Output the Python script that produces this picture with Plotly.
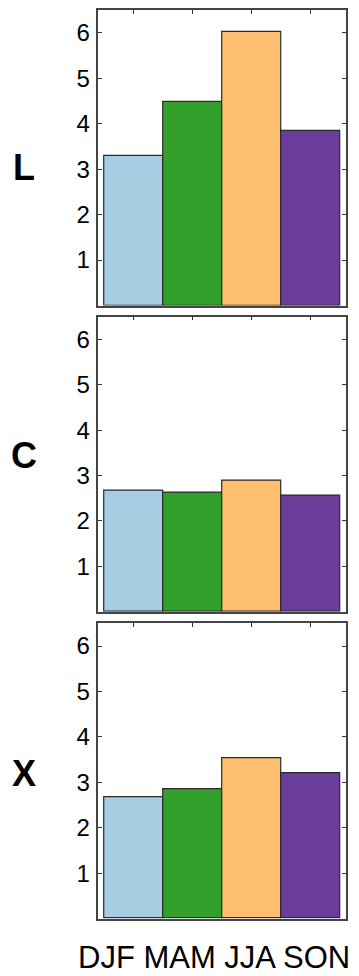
import plotly.graph_objects as go

seasons = ["DJF", "MAM", "JJA", "SON"]
panel_labels = ["L", "C", "X"]
values_L = [3.28, 4.47, 6.02, 3.83]
values_C = [2.66, 2.63, 2.88, 2.55]
values_X = [2.67, 2.85, 3.53, 3.20]
bar_colors = ["#a6cee3", "#33a02c", "#fdbf6f", "#6a3d9a"]
y_ticks = [1, 2, 3, 4, 5, 6]

W, H = 359, 976
panels = [values_L, values_C, values_X]
# pixel boxes (top, bottom)
boxes = [(10, 305.5), (316.7, 611.7), (623.3, 918.7)]
x_left, x_right = 98.3, 345.7
label_y = [168, 456, 773]

fig = go.Figure()
font_fam = "Liberation Sans, Arial, sans-serif"
for i, vals in enumerate(panels):
    n = i + 1
    xa = "x" if n == 1 else f"x{n}"
    ya = "y" if n == 1 else f"y{n}"
    fig.add_trace(go.Bar(
        x=seasons, y=vals, xaxis=xa, yaxis=ya,
        marker=dict(color=bar_colors, line=dict(color="#2b2b2b", width=1.2)),
        showlegend=False, hoverinfo="skip",
    ))
    top, bot = boxes[i]
    xkey = "xaxis" if n == 1 else f"xaxis{n}"
    ykey = "yaxis" if n == 1 else f"yaxis{n}"
    fig.update_layout(**{
        xkey: dict(
            domain=[x_left / W, x_right / W], anchor=ya,
            type="category", categoryorder="array", categoryarray=seasons,
            range=[-0.6, 3.6], side="top",
            showticklabels=False, ticks="inside", ticklen=4, tickwidth=1.2,
            tickcolor="#333", showline=True, linecolor="#444", linewidth=1.5,
            mirror=True, showgrid=False, zeroline=False, fixedrange=True,
        ),
        ykey: dict(
            domain=[1 - bot / H, 1 - top / H], anchor=xa,
            range=[0, 6.5], tickvals=y_ticks, ticktext=[str(t) for t in y_ticks],
            ticks="inside", ticklen=4, tickwidth=1.2, tickcolor="#333",
            showline=True, linecolor="#444", linewidth=1.5, mirror="ticks",
            showgrid=False, zeroline=False,
            tickfont=dict(family=font_fam, size=24, color="black"),
            ticklabelstandoff=2, fixedrange=True,
        ),
    })
    fig.add_annotation(
        x=23.5 / W, y=1 - label_y[i] / H, xref="paper", yref="paper",
        text=f"<b>{panel_labels[i]}</b>", showarrow=False,
        xanchor="center", yanchor="middle",
        font=dict(family=font_fam, size=36, color="black"),
    )

fig.add_annotation(
    x=214 / W, y=0, xref="paper", yref="paper",
    text=" ".join(seasons), showarrow=False, xanchor="center", yanchor="bottom",
    font=dict(family=font_fam, size=31, color="black"), borderpad=0,
)

fig.update_layout(
    width=W, height=H, margin=dict(l=0, r=0, t=0, b=0),
    paper_bgcolor="white", plot_bgcolor="white", bargap=0,
)
fig.write_html("out.html")
